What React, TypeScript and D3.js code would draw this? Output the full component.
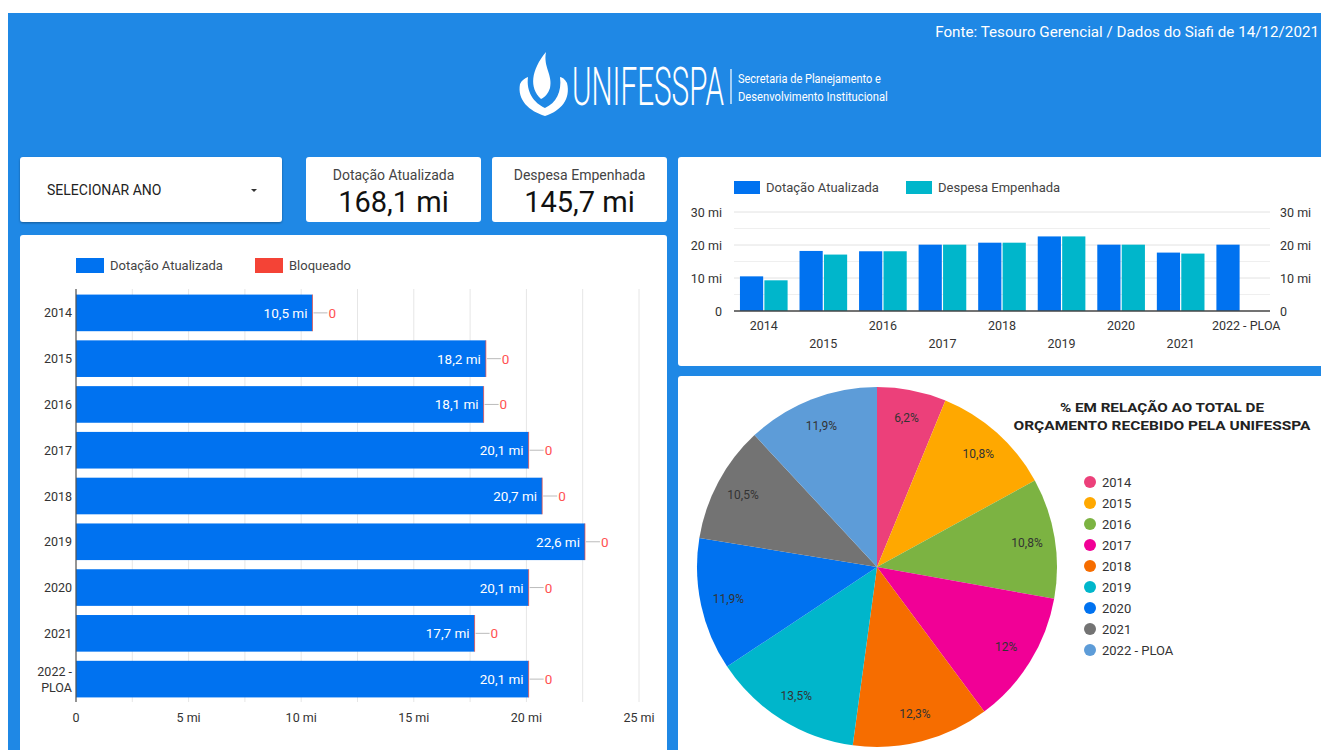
import React, { useLayoutEffect, useRef, useState } from "react";
import * as d3 from "d3";

const years = ["2014", "2015", "2016", "2017", "2018", "2019", "2020", "2021", "2022 - PLOA"];
const dotacao = [10.5, 18.2, 18.1, 20.1, 20.7, 22.6, 20.1, 17.7, 20.1];
const despesa: (number | null)[] = [9.3, 17.1, 18.1, 20.1, 20.7, 22.6, 20.1, 17.4, null];
const bloqueado = [0, 0, 0, 0, 0, 0, 0, 0, 0];
const piePct = [6.2, 10.8, 10.8, 12, 12.3, 13.5, 11.9, 10.5, 11.9];
const pieColors = ["#ec407a", "#ffa800", "#7cb342", "#f10096", "#f66d00", "#00b6cb", "#0072f0", "#737373", "#5d9cd8"];
const hTicks = [0, 5, 10, 15, 20, 25];
const hGrid = [0, 2.5, 5, 7.5, 10, 12.5, 15, 17.5, 20, 22.5, 25];
const vTicks = [0, 10, 20, 30];
const vGrid = [5, 10, 15, 20, 25, 30];
const kpis = [
  { label: "Dotação Atualizada", value: "168,1 mi" },
  { label: "Despesa Empenhada", value: "145,7 mi" },
];
const logoTexts = [
  { text: "UNIFESSPA", x: 572, y: 105, size: 54, weight: 300, width: 152 },
  { text: "Secretaria de Planejamento e", x: 738, y: 83, size: 13, weight: 400, width: 143 },
  { text: "Desenvolvimento Institucional", x: 738, y: 101, size: 13, weight: 400, width: 150 },
];

const BLUE = "#0072f0";
const TEAL = "#00b6cb";
const RED = "#f44336";
const FONT = "Roboto, sans-serif";

const fmtMi = (v: number) => (v === 0 ? "0" : v.toFixed(1).replace(".", ",") + " mi");
const fmtTick = (v: number) => (v === 0 ? "0" : String(v) + " mi");
const fmtPct = (v: number) => String(v).replace(".", ",") + "%";

function CondensedText({ text, x, y, size, weight, width }: { text: string; x: number; y: number; size: number; weight: number; width: number }) {
  const ref = useRef<SVGTextElement>(null);
  const [k, setK] = useState(0.6);
  useLayoutEffect(() => {
    if (ref.current) {
      const w = ref.current.getComputedTextLength();
      if (w > 0) setK(width / w);
    }
  }, [text, width]);
  return (
    <g transform={`translate(${x},${y}) scale(${k},1)`}>
      <text ref={ref} x={0} y={0} fill="#fff" fontSize={size} fontWeight={weight}>{text}</text>
    </g>
  );
}

export default function App() {
  // left horizontal bar chart
  const xH = d3.scaleLinear().domain([0, 25]).range([76, 639]);
  const yH = d3.scaleBand<string>().domain(years).range([290, 702]).paddingInner(0.2).paddingOuter(0.1);

  // top-right grouped column chart
  const xG = d3.scaleBand<string>().domain(years).range([734, 1270]).paddingInner(0.2).paddingOuter(0.1);
  const xSub = d3.scaleBand<string>().domain(["d", "e"]).range([0, xG.bandwidth()]).paddingInner(0.05);
  const yG = d3.scaleLinear().domain([0, 30]).range([311, 212]);

  // pie
  const cx = 877, cy = 567, R = 180;
  const pie = d3.pie<number>().sort(null).value((d) => d)(piePct);
  const arc = d3.arc<d3.PieArcDatum<number>>().innerRadius(0).outerRadius(R);
  const labelArc = d3.arc<d3.PieArcDatum<number>>().innerRadius(152).outerRadius(152);

  return (
    <svg width={1321} height={750} style={{ position: "absolute", left: 0, top: 0, fontFamily: FONT }}>
      <defs>
        <filter id="sh" x="-5%" y="-5%" width="110%" height="120%">
          <feDropShadow dx="0" dy="1" stdDeviation="1.2" floodColor="#000" floodOpacity="0.35" />
        </filter>
      </defs>
      <rect x={0} y={0} width={1321} height={750} fill="#fff" />
      <rect x={8} y={13} width={1313} height={737} fill="#1f88e5" />

      {/* header */}
      <text x={1319} y={37} textAnchor="end" fill="#fff" fontSize={15.2}>
        Fonte: Tesouro Gerencial / Dados do Siafi de 14/12/2021
      </text>
      <g fill="#fff">
        <path d="M541 99 C529 88 531 70 546 52 C543 67 553 75 550 88 C548 94 545 97 541 99 Z" />
        <path d="M545 116 C529 111 517 100 520 84 C522 80 525 78 528 77 C526 92 534 103 545 108 Z" />
        <path d="M545 116 C561 111 571 99 567 83 C565 79 562 77 560 77 C562 92 556 103 545 108 Z" />
      </g>
      {logoTexts.map((t) => (
        <CondensedText key={t.text} {...t} />
      ))}
      <line x1={731} x2={731} y1={69} y2={104} stroke="#fff" strokeWidth={1.2} />

      {/* select card */}
      <rect x={20} y={157} width={262} height={65} rx={3} fill="#fff" filter="url(#sh)" />
      <text x={47} y={195} fontSize={14} fill="#222">SELECIONAR ANO</text>
      <path d="M251 189 L257 189 L254 192 Z" fill="#333" />

      {/* KPI cards */}
      {kpis.map((k, i) => {
        const x0 = i === 0 ? 306 : 492;
        const w = 175;
        return (
          <g key={k.label}>
            <rect x={x0} y={157} width={w} height={65} rx={3} fill="#fff" />
            <text x={x0 + w / 2} y={180} textAnchor="middle" fontSize={14} fill="#444">{k.label}</text>
            <text x={x0 + w / 2} y={212} textAnchor="middle" fontSize={29} fill="#111">{k.value}</text>
          </g>
        );
      })}

      {/* left card */}
      <rect x={20} y={235} width={647} height={530} rx={3} fill="#fff" />
      <rect x={76} y={258} width={28} height={15} fill={BLUE} />
      <text x={110} y={270} fontSize={13} fill="#444">Dotação Atualizada</text>
      <rect x={255} y={258} width={28} height={15} fill={RED} />
      <text x={289} y={270} fontSize={13} fill="#444">Bloqueado</text>
      {hGrid.map((t) => (
        <line key={t} x1={xH(t)} x2={xH(t)} y1={289} y2={702} stroke="#e6e6e6" strokeWidth={1} />
      ))}
      {years.map((y, i) => {
        const yy = yH(y)!;
        const bw = yH.bandwidth();
        const xe = xH(dotacao[i] + bloqueado[i]);
        return (
          <g key={y}>
            <rect x={xH(0)} y={yy} width={xH(dotacao[i]) - xH(0)} height={bw} fill={BLUE} />
            <line x1={xe} x2={xe} y1={yy} y2={yy + bw} stroke={RED} strokeWidth={1} opacity={0.7} />
            <text x={xH(dotacao[i]) - 5} y={yy + bw / 2 + 5} textAnchor="end" fontSize={13.5} fill="#fff">
              {fmtMi(dotacao[i])}
            </text>
            <line x1={xe + 1} x2={xe + 15} y1={yy + bw / 2} y2={yy + bw / 2} stroke="#bbb" strokeWidth={1} />
            <text x={xe + 16} y={yy + bw / 2 + 5} fontSize={13.5} fill="#ff5252">{fmtMi(bloqueado[i])}</text>
            {y.includes(" - ") ? (
              <text x={72} textAnchor="end" fontSize={12.5} fill="#333">
                <tspan x={72} y={yy + bw / 2 - 3}>{y.split(" - ")[0] + " -"}</tspan>
                <tspan x={72} y={yy + bw / 2 + 13}>{y.split(" - ")[1]}</tspan>
              </text>
            ) : (
              <text x={72} y={yy + bw / 2 + 4.5} textAnchor="end" fontSize={12.5} fill="#333">{y}</text>
            )}
          </g>
        );
      })}
      <line x1={76} x2={76} y1={289} y2={702} stroke="#555" strokeWidth={1.2} />
      {hTicks.map((t) => (
        <text key={t} x={xH(t)} y={722} textAnchor="middle" fontSize={12.5} fill="#333">{fmtTick(t)}</text>
      ))}

      {/* top-right card */}
      <rect x={678} y={157} width={660} height={209} rx={3} fill="#fff" />
      <rect x={734} y={181} width={26} height={13} fill={BLUE} />
      <text x={766} y={192} fontSize={13} fill="#444">Dotação Atualizada</text>
      <rect x={906} y={181} width={26} height={13} fill={TEAL} />
      <text x={938} y={192} fontSize={13} fill="#444">Despesa Empenhada</text>
      {vGrid.map((t) => (
        <line key={t} x1={734} x2={1270} y1={yG(t)} y2={yG(t)} stroke={t % 10 === 0 ? "#e2e2e2" : "#efefef"} strokeWidth={1} />
      ))}
      {years.map((y, i) => {
        const gx = xG(y)!;
        return (
          <g key={y}>
            <rect x={gx + xSub("d")!} y={yG(dotacao[i])} width={xSub.bandwidth()} height={yG(0) - yG(dotacao[i])} fill={BLUE} />
            {despesa[i] != null && (
              <rect x={gx + xSub("e")!} y={yG(despesa[i] as number)} width={xSub.bandwidth()} height={yG(0) - yG(despesa[i] as number)} fill={TEAL} />
            )}
            <text x={gx + xG.bandwidth() / 2 + (i === 8 ? 6 : 0)} y={i % 2 === 0 ? 330 : 348} textAnchor="middle" fontSize={12.5} fill="#333">
              {y}
            </text>
          </g>
        );
      })}
      <line x1={734} x2={1270} y1={yG(0)} y2={yG(0)} stroke="#444" strokeWidth={1.5} />
      {vTicks.map((t) => (
        <g key={t}>
          <text x={722} y={yG(t) + 4.5} textAnchor="end" fontSize={12.5} fill="#333">{fmtTick(t)}</text>
          <text x={1280} y={yG(t) + 4.5} fontSize={12.5} fill="#333">{fmtTick(t)}</text>
        </g>
      ))}

      {/* pie card */}
      <rect x={678} y={376} width={660} height={400} rx={3} fill="#fff" />
      <g transform={`translate(${cx},${cy})`}>
        {pie.map((p, i) => (
          <path key={i} d={arc(p)!} fill={pieColors[i]} />
        ))}
        {pie.map((p, i) => {
          const [lx, ly] = labelArc.centroid(p);
          return (
            <text key={i} x={lx} y={ly + 4} textAnchor="middle" fontSize={12} fill="#333">{fmtPct(p.data)}</text>
          );
        })}
      </g>
      <text x={1162} y={412} textAnchor="middle" fontSize={13.5} fontWeight={700} fill="#222" textLength={204} lengthAdjust="spacingAndGlyphs">
        % EM RELAÇÃO AO TOTAL DE
      </text>
      <text x={1162} y={430} textAnchor="middle" fontSize={13.5} fontWeight={700} fill="#222" textLength={297} lengthAdjust="spacingAndGlyphs">
        ORÇAMENTO RECEBIDO PELA UNIFESSPA
      </text>
      {years.map((y, i) => (
        <g key={y}>
          <circle cx={1090} cy={482 + i * 21} r={6} fill={pieColors[i]} />
          <text x={1102} y={487 + i * 21} fontSize={13} fill="#333">{y}</text>
        </g>
      ))}
    </svg>
  );
}
